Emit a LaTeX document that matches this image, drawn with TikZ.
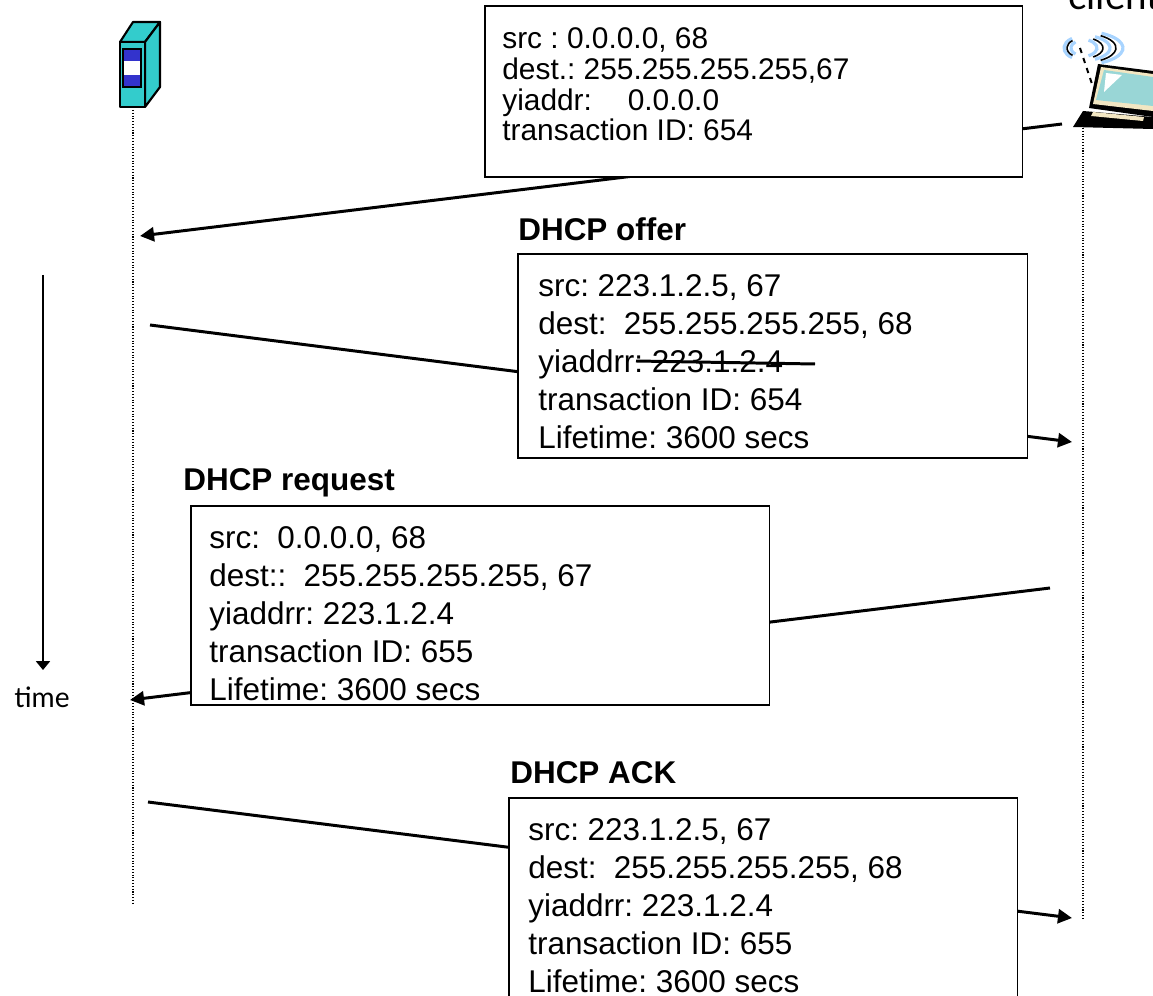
\documentclass[tikz,border=0pt]{standalone}
\usepackage{fontspec}
\setmainfont{Liberation Sans}
\newfontfamily\handfont{Lato}
\usetikzlibrary{arrows.meta,positioning}
\definecolor{srvteal}{HTML}{33CCCC}
\definecolor{srvblue}{HTML}{3333CC}
\definecolor{scrcyan}{HTML}{99D6D6}
\definecolor{kbcream}{HTML}{F2E6C2}
\definecolor{wave}{HTML}{A8D4FF}
\frenchspacing
\begin{document}
\begin{tikzpicture}[x=0.02cm, y=-0.02cm,
  pktarrow/.style={line width=1.7pt,-{Triangle[length=8pt,width=8pt]}},
  lifeline/.style={densely dotted,line width=0.6pt},
  pkt/.style={draw,fill=white,line width=0.9pt,anchor=north west,inner sep=0},
  pkttext/.style={anchor=north west,align=left,inner sep=0,font=\fontsize{17.9}{21.6}\selectfont},
  tag/.style={anchor=base west,inner sep=0,font=\bfseries\fontsize{17.9}{20}\selectfont},
  hand/.style={inner sep=0,font=\handfont\fontsize{16}{18}\selectfont},
  srv/.style={fill=srvteal,draw=black,line width=1.2pt,line join=round}]
\useasboundingbox (0,0) rectangle (1153,996);

% lifelines
\coordinate (srv0) at (133,110);
\coordinate (srv1) at (133,905);
\coordinate (cli0) at (1083,128);
\coordinate (cli1) at (1083,918);
\draw[lifeline] (srv0) -- (srv1);
\draw[lifeline] (cli0) -- (cli1);

% messages
\coordinate (dA) at (1062,124);
\coordinate (dB) at (140,236);
\coordinate (oA) at (150,325);
\coordinate (oB) at (1072,442);
\coordinate (rA) at (1050,588);
\coordinate (rB) at (130,700);
\coordinate (aA) at (148,802);
\coordinate (aB) at (1072,918);
\draw[pktarrow] (dA) -- (dB);
\draw[pktarrow] (oA) -- (oB);
\draw[pktarrow] (rA) -- (rB);
\draw[pktarrow] (aA) -- (aB);

% boxes
\node[pkt,minimum width=10.76cm,minimum height=3.42cm] (bdisc) at (484,5) {};
\node[pkt,minimum width=10.2cm,minimum height=4.08cm] (boff) at (517,253) {};
\node[pkt,minimum width=11.58cm,minimum height=3.98cm] (breq) at (190,505) {};
\node[pkt,minimum width=10.18cm,minimum height=4.26cm] (back) at (508,797) {};

\node[pkttext,font=\fontsize{17}{17.6}\selectfont] (tdisc) at (502,27) {src : 0.0.0.0, 68\\dest.: 255.255.255.255,67\\yiaddr:\hspace{1.2em}0.0.0.0\\transaction ID: 654};
\node[pkttext] (toff) at (538,274) {src: 223.1.2.5, 67\\dest:\ \ 255.255.255.255, 68\\yiaddrr: 223.1.2.4\\transaction ID: 654\\Lifetime: 3600 secs};
\node[pkttext] (treq) at (209,526) {src:\ \ 0.0.0.0, 68\\dest::\ \ 255.255.255.255, 67\\yiaddrr: 223.1.2.4\\transaction ID: 655\\Lifetime: 3600 secs};
\node[pkttext] (tack) at (528,818) {src: 223.1.2.5, 67\\dest:\ \ 255.255.255.255, 68\\yiaddrr: 223.1.2.4\\transaction ID: 655\\Lifetime: 3600 secs};
\draw[line width=1.7pt] (636,361) -- (815,364);

\node[tag] (loff) at (518,241) {DHCP offer};
\node[tag] (lreq) at (183,491) {DHCP request};
\node[tag] (lack) at (510,783) {DHCP ACK};

% time axis
\coordinate (t0) at (43,275);
\coordinate (t1) at (43,670);
\draw[line width=0.7pt,-{Triangle[length=5pt,width=8pt]}] (t0) -- (t1);
\node[hand] (time) at (42,697) {time};
\node[hand,anchor=base west,font=\handfont\fontsize{22}{24}\selectfont] (cli) at (1068,10) {client};

% server
\filldraw[srv] (120,42) -- (133,22) -- (160,22) -- (145,42) -- cycle;
\filldraw[srv] (145,42) -- (160,22) -- (160,87) -- (145,107) -- cycle;
\filldraw[srv] (120,42) rectangle (145,107);
\filldraw[fill=srvblue,line width=1pt] (123,49) rectangle (141,87);
\fill[white] (124,61) rectangle (140,75);

% laptop
\foreach \r/\s in {17/9,30/13,43/17}
  \draw[wave,line width=1.8pt] ([shift={(-60:{\r} and {\s})}]1080,48) arc[start angle=-60,end angle=60,x radius=\r,y radius=\s];
\foreach \r/\s in {23/11,36/15}
  \draw[line width=0.9pt] ([shift={(-55:{\r} and {\s})}]1080,48) arc[start angle=-55,end angle=55,x radius=\r,y radius=\s];
\foreach \r/\s in {9/7,16/11}
  \draw[wave,line width=1.8pt] ([shift={(120:{\r} and {\s})}]1080,48) arc[start angle=120,end angle=240,x radius=\r,y radius=\s];
\draw[line width=0.9pt] ([shift={(125:{13} and {9})}]1080,48) arc[start angle=125,end angle=235,x radius=13,y radius=9];
\draw[line width=1.1pt,dashed] (1080,48) -- (1092,84);
\fill[black] (1098,64) -- (1153,71) -- (1153,117) -- (1089,108) -- cycle;
\fill[kbcream] (1101,67) -- (1153,74) -- (1153,111) -- (1093,104) -- cycle;
\fill[scrcyan] (1104,70) -- (1153,77) -- (1153,106) -- (1096,100) -- cycle;
\fill[white] (1106,73) -- (1122,75) -- (1104,92) -- cycle;
\fill[black] (1083,111) -- (1153,117) -- (1153,129) -- (1073,127) -- cycle;
\fill[kbcream] (1093,112) -- (1144,117) -- (1143,121) -- (1091,116) -- cycle;
\end{tikzpicture}
\end{document}
